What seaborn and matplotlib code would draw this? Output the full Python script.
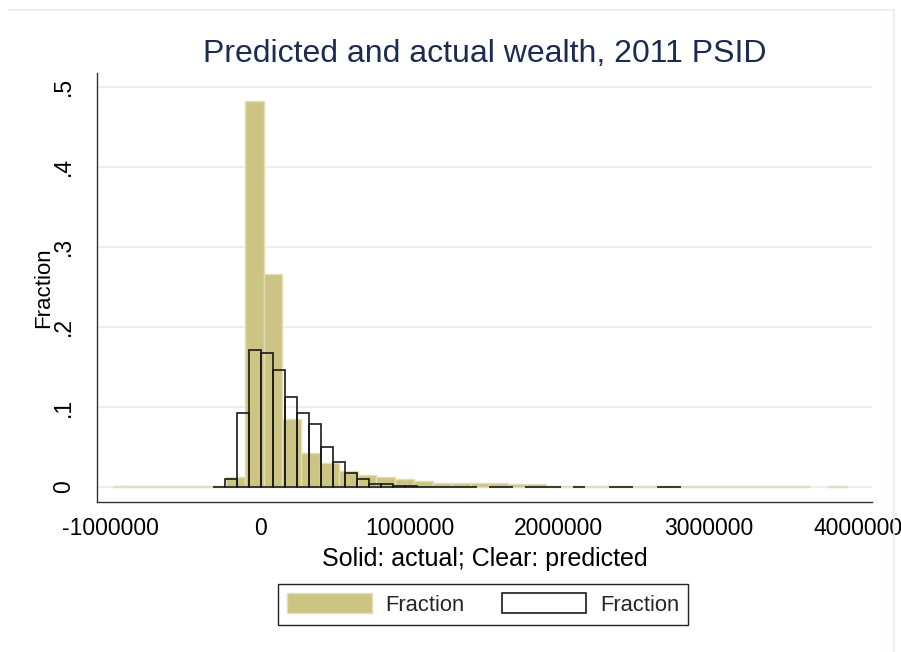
import numpy as np
import pandas as pd
import matplotlib
matplotlib.use("Agg")
import matplotlib.pyplot as plt
import seaborn as sns
from matplotlib.patches import Patch
from matplotlib.lines import Line2D

# ---------------- data ----------------
# actual wealth histogram (solid): 39 bins
actual_start = -985000
actual_width = 126000
actual_frac = [0.0012, 0.0012, 0.0012, 0.0012, 0.0012, 0.0012,
               0.013, 0.4825, 0.266, 0.085, 0.043, 0.0296, 0.0204, 0.015,
               0.012, 0.0096, 0.008,
               0.0056, 0.0055, 0.0055, 0.0054, 0.0035, 0.0034,
               0.0013, 0.0012, 0.0012, 0.0012, 0.0012, 0.0012, 0.0012,
               0.0012, 0.0012, 0.0012, 0.0012, 0.0012, 0.0012, 0.0012,
               0.0, 0.0012]

# predicted wealth histogram (clear): 39 bins
pred_start = -317000
pred_width = 80300
pred_frac = [0.0003, 0.0096, 0.093, 0.171, 0.167, 0.146, 0.113, 0.093,
             0.079, 0.050, 0.031, 0.017, 0.0096, 0.0034, 0.0034, 0.0010,
             0.0010, 0.0003, 0.0003, 0.0003, 0.0003, 0.0003, 0.0, 0.0003,
             0.0003, 0.0, 0.0003, 0.0003, 0.0003, 0.0, 0.0003, 0.0, 0.0,
             0.0003, 0.0003, 0.0, 0.0, 0.0003, 0.0003]

x_ticks = [-1000000, 0, 1000000, 2000000, 3000000, 4000000]
x_ticklabels = ["-1000000", "0", "1000000", "2000000", "3000000", "4000000"]
y_ticks = [0, 0.1, 0.2, 0.3, 0.4, 0.5]
y_ticklabels = ["0", ".1", ".2", ".3", ".4", ".5"]

title = "Predicted and actual wealth, 2011 PSID"
xlabel = "Solid: actual; Clear: predicted"
ylabel = "Fraction"
legend_labels = ["Fraction", "Fraction"]

# ---------------- style ----------------
sns.set_style("white")
plt.rcParams["font.family"] = ["Liberation Sans", "DejaVu Sans"]

KHAKI = "#cbc483"
KHAKI_EDGE = "#e2dfb6"
GRID = "#e8f0f2"
NAVY = "#1c2b50"

W, H = 901, 652
fig = plt.figure(figsize=(W / 100, H / 100), dpi=100, facecolor="white")
ax_l, ax_r, ax_t, ax_b = 97, 872, 73.3, 502
ax = fig.add_axes([ax_l / W, (H - ax_b) / H, (ax_r - ax_l) / W, (ax_b - ax_t) / H])
ax.set_facecolor("white")

def hist_layer(start, width, frac):
    n = len(frac)
    edges = [float(start + width * i) for i in range(n + 1)]
    centers = [float(start + width * (i + 0.5)) for i in range(n)]
    df = pd.DataFrame({"x": centers, "w": frac})
    return df, edges

df_a, edges_a = hist_layer(actual_start, actual_width, actual_frac)
df_p, edges_p = hist_layer(pred_start, pred_width, pred_frac)

n0 = len(ax.patches)
sns.histplot(data=df_a, x="x", weights="w", bins=edges_a, stat="count",
             ax=ax, color=KHAKI, alpha=1, edgecolor=KHAKI_EDGE, linewidth=1.0)
for p in ax.patches[n0:]:
    p.set_facecolor(KHAKI)
    p.set_edgecolor(KHAKI_EDGE)
    p.set_zorder(2)
    if p.get_height() <= 0:
        p.set_visible(False)

n1 = len(ax.patches)
sns.histplot(data=df_p, x="x", weights="w", bins=edges_p, stat="count",
             ax=ax, color="black", alpha=1, linewidth=1.2)
for p in ax.patches[n1:]:
    p.set_facecolor("none")
    p.set_edgecolor("#1a1a1a")
    p.set_linewidth(1.2)
    p.set_zorder(3)
    if p.get_height() <= 0:
        p.set_visible(False)

# axes scales
x0 = 260.1
px_per_unit = 149.4 / 1e6
ax.set_xlim((ax_l - x0) / px_per_unit, (ax_r - x0) / px_per_unit)
y0 = 487.0
px_per_frac = 800.6
ax.set_ylim(-(ax_b - y0) / px_per_frac, (y0 - ax_t) / px_per_frac)

ax.set_xticks(x_ticks)
ax.set_xticklabels(x_ticklabels)
ax.set_yticks(y_ticks)
ax.set_yticklabels(y_ticklabels, rotation=90, va="center")
ax.tick_params(axis="both", direction="out", length=6, width=1.0,
               color="#333333", labelsize=16.5, labelcolor="black")
ax.tick_params(axis="x", pad=5)
ax.tick_params(axis="y", pad=10)

ax.set_axisbelow(True)
ax.yaxis.grid(True, color=GRID, linewidth=1.5, zorder=0)
ax.xaxis.grid(False)

for s in ["top", "right"]:
    ax.spines[s].set_visible(False)
for s in ["left", "bottom"]:
    ax.spines[s].set_color("#333333")
    ax.spines[s].set_linewidth(1.0)

ax.set_xlabel(xlabel, fontsize=18, color="black", labelpad=5)
ax.set_ylabel(ylabel, fontsize=16, color="black", labelpad=-2)

fig.text(484.7 / W, (H - 61.7) / H, title, ha="center", va="baseline",
         fontsize=23, color=NAVY)

handles = [Patch(facecolor=KHAKI, edgecolor=KHAKI_EDGE, linewidth=1),
           Patch(facecolor="white", edgecolor="#1a1a1a", linewidth=1.2)]
leg = fig.legend(handles, legend_labels, loc="center",
                 bbox_to_anchor=((278.3 + 688.3) / 2 / W, (H - 604.5) / H),
                 ncol=2, fontsize=15.8, frameon=True, fancybox=False,
                 edgecolor="#222222", framealpha=1, handlelength=3.85,
                 handleheight=1.0, handletextpad=0.62, columnspacing=1.7,
                 borderpad=0.42)
leg.get_frame().set_linewidth(1.0)

# outer graph-region border (light)
fig.add_artist(Line2D([9 / W, 894 / W], [(H - 10) / H, (H - 10) / H],
                      transform=fig.transFigure, color="#e6eef0", linewidth=1.2))
fig.add_artist(Line2D([894 / W, 894 / W], [(H - 10) / H, 0],
                      transform=fig.transFigure, color="#e6eef0", linewidth=1.2))

fig.savefig("out.png", dpi=100, facecolor="white")
